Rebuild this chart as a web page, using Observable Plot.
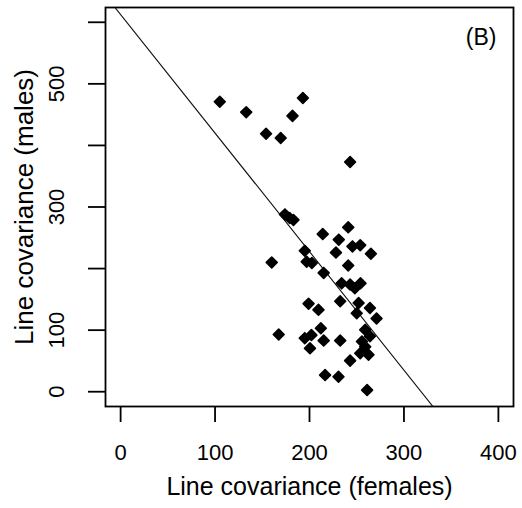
<!DOCTYPE html>
<html><head><meta charset="utf-8">
<script src="https://cdn.jsdelivr.net/npm/d3@7"></script>
<script src="https://cdn.jsdelivr.net/npm/@observablehq/plot@0.6"></script>
<style>
body{margin:0;background:#fff}
svg{font-family:"Liberation Sans",Arial,sans-serif}
</style>
</head><body><div id="chart"></div>
<script>
const females = [105,133,193,182,154,169.5,243,174,179,183,214,241,231,228,245.5,253.7,265,195,197,202.5,241,215,160,234,243,248,254,232.5,199,209.5,252,250,264,271,212,195,202,200.5,215,232.5,259,264,255.5,259,253.7,262.5,243,216.5,230.7,261,167.4];
const males   = [471,454,477,448,419,412,373,288,282,279,256,267,247,226,236,238,224,229,211,209,205,193,210,176,174,168,176,147,143,133,144,127.5,136,119,103,87,92,70.5,83,83,100.5,90,81.5,73,62.5,60,50.5,27,24.4,2.7,93];
const xTicks = [0,100,200,300,400];
const yTicks = [0,100,200,300,400,500,600];
const yTickLabels = [0,100,300,500];
const xDomain = [-16,416];
const yDomain = [-24,624];
const lineIntercept = 612.5;
const lineSlope = -1.925;
const panelLabel = "(B)";
const xTitle = "Line covariance (females)";
const yTitle = "Line covariance (males)";

const pts = females.map((f,i)=>({f, m: males[i]}));
const fitLine = xDomain.map(x=>({x, y: lineIntercept + lineSlope*x}));

const chart = Plot.plot({
  width: 522, height: 508,
  marginLeft: 105, marginRight: 9, marginTop: 7, marginBottom: 102,
  x: {domain: xDomain},
  y: {domain: yDomain},
  style: {fontFamily: '"Liberation Sans",Arial,sans-serif', color: "#000"},
  marks: [
    Plot.line(fitLine, {x:"x", y:"y", stroke:"#111", strokeWidth:1.1, clip:true}),
    Plot.dot(pts, {x:"f", y:"m", symbol:"diamond2", r:4.9, fill:"#000", stroke:"#000", strokeWidth:1.6, strokeLinejoin:"round"}),
    Plot.frame({stroke:"#000", strokeWidth:1.8}),
    Plot.axisX({ticks: xTicks, tickSize: 16, tickPadding: 22, fontSize: 22, strokeWidth:1.8, label: null}),
    Plot.axisY({ticks: yTicks, tickSize: 17, tickFormat: () => "", strokeWidth:1.8, label: null}),
    Plot.text(yTickLabels, {y: d=>d, frameAnchor:"left", dx: -42, rotate: -90, textAnchor:"middle", lineAnchor:"bottom", fontSize: 22, fill:"#000"}),
    Plot.text([xTitle], {frameAnchor:"bottom", dy: 71, lineAnchor:"top", fontSize: 25, fill:"#000"}),
    Plot.text([yTitle], {frameAnchor:"left", dx: -73, rotate: -90, textAnchor:"middle", lineAnchor:"bottom", fontSize: 26, fill:"#000"}),
    Plot.text([panelLabel], {frameAnchor:"top-right", dx: -17, dy: 21, textAnchor:"end", lineAnchor:"top", fontSize: 23, fill:"#000"})
  ]
});
document.getElementById("chart").appendChild(chart);
</script>
</body></html>
